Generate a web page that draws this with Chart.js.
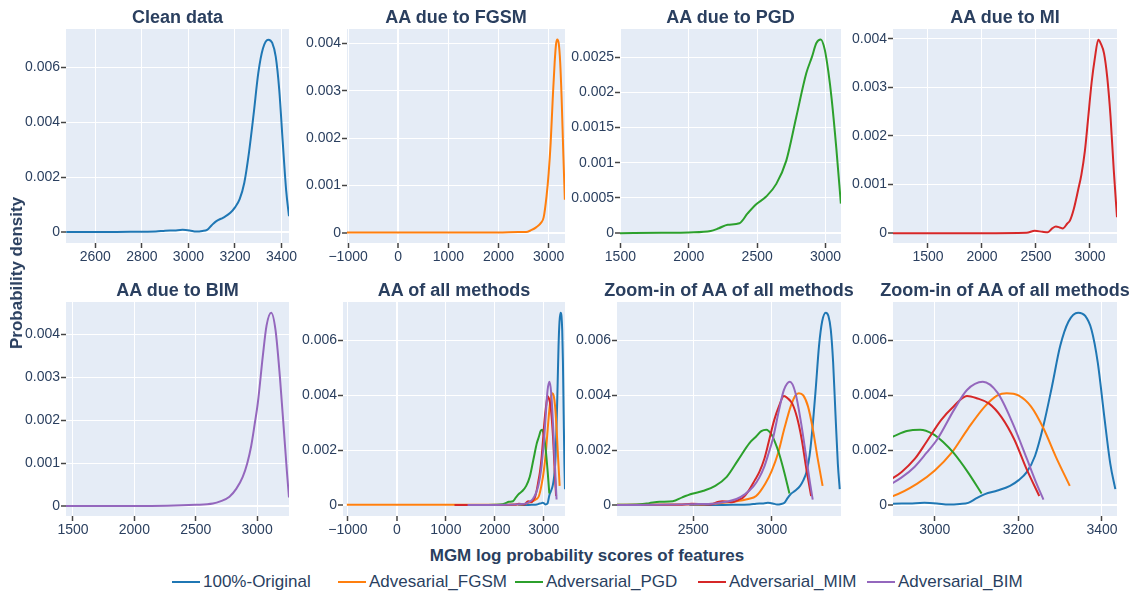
<!DOCTYPE html>
<html>
<head>
<meta charset="utf-8">
<script src="https://cdn.jsdelivr.net/npm/chart.js@4.4.1/dist/chart.umd.min.js"></script>
<style>
  html, body { margin: 0; padding: 0; background: #fff; }
  #wrap { position: relative; width: 1136px; height: 595px; overflow: hidden;
          font-family: "Liberation Sans", Arial, sans-serif; color: #2a3f5f; }
  .cv { position: absolute; }
  .ttl { position: absolute; font-weight: bold; font-size: 18px; white-space: nowrap;
         transform: translate(-50%, -50%); }
  #xlab { position: absolute; left: 587px; top: 556px; font-weight: bold; font-size: 17px;
          white-space: nowrap; transform: translate(-50%, -50%); }
  #ylab { position: absolute; left: 17px; top: 273px; font-weight: bold; font-size: 17px;
          white-space: nowrap; transform: translate(-50%, -50%) rotate(-90deg); }
  .leg { position: absolute; top: 582px; font-size: 17px; white-space: nowrap;
         transform: translateY(-50%); display: flex; align-items: center; }
  .leg span.sw { display: inline-block; width: 28px; height: 2px; margin-right: 3px; }
</style>
</head>
<body>
<div id="wrap"></div>
<script>
// series (kernel density estimates)
const cleanX = [2475, 2600, 2750, 2860, 2900, 2940, 2975, 3005, 3033, 3060, 3080, 3100, 3120, 3150, 3180, 3200, 3220, 3240, 3260, 3280, 3300, 3320, 3343, 3360, 3375, 3390, 3405, 3420, 3432]
const cleanY = [0, 0, 0.00001, 0.00002, 0.00005, 0.00006, 0.00008, 0.00006, 0.00002, 0.00004, 0.00008, 0.00025, 0.0004, 0.00053, 0.0007, 0.0009, 0.0012, 0.0018, 0.0029, 0.0043, 0.0058, 0.0067, 0.00702, 0.0069, 0.0064, 0.0052, 0.0033, 0.0015, 0.00058]

const fgsmX = [-1022, -500, 0, 500, 1000, 1500, 2000, 2400, 2550, 2650, 2750, 2850, 2900, 2958, 3000, 3040, 3080, 3120, 3150, 3172, 3200, 3230, 3260, 3290, 3323]
const fgsmY = [0.00001, 0.00001, 0.00001, 0.00001, 0.00001, 0.00001, 0.00001, 0.00002, 0.00002, 0.00006, 0.00012, 0.00022, 0.00033, 0.00078, 0.00126, 0.0019, 0.0028, 0.0036, 0.004, 0.00408, 0.004, 0.0036, 0.0028, 0.00175, 0.0007]

const pgdX = [1497, 1800, 2000, 2160, 2220, 2285, 2370, 2430, 2493, 2566, 2640, 2713, 2786, 2859, 2900, 2933, 2965, 2995, 3020, 3045, 3079, 3112]
const pgdY = [0, 0.000005, 0.00001, 0.00003, 0.00007, 0.00012, 0.00014, 0.00028, 0.00041, 0.00052, 0.0007, 0.00103, 0.00165, 0.00227, 0.0025, 0.0027, 0.00275, 0.0026, 0.0023, 0.0019, 0.0012, 0.00042]

const mimX = [1176, 1500, 2000, 2413, 2490, 2560, 2610, 2650, 2684, 2720, 2747, 2790, 2814, 2850, 2891, 2920, 2953, 2980, 3015, 3045, 3077, 3100, 3130, 3160, 3190, 3220, 3250]
const mimY = [0, 0, 0, 0.00001, 0.00005, 0.00003, 0.00002, 0.0001, 0.00014, 0.00012, 0.0001, 0.0002, 0.00026, 0.0005, 0.0009, 0.0012, 0.0017, 0.0023, 0.0031, 0.0036, 0.00398, 0.0039, 0.0037, 0.0032, 0.0024, 0.0013, 0.00033]

const bimX = [1443, 2000, 2500, 2640, 2700, 2775, 2830, 2883, 2920, 2952, 2980, 3006, 3047, 3077, 3115, 3150, 3186, 3220, 3243, 3260]
const bimY = [0, 0, 0.00003, 0.00006, 0.00011, 0.00022, 0.0004, 0.00068, 0.001, 0.0014, 0.0019, 0.0024, 0.0035, 0.0042, 0.0045, 0.0041, 0.003, 0.0017, 0.0008, 0.0002]

const seriesNames = ['100%-Original', 'Advesarial_FGSM', 'Adversarial_PGD', 'Adversarial_MIM', 'Adversarial_BIM']
const seriesColors = ['#1f77b4', '#ff7f0e', '#2ca02c', '#d62728', '#9467bd']
const seriesX = [cleanX, fgsmX, pgdX, mimX, bimX]
const seriesY = [cleanY, fgsmY, pgdY, mimY, bimY]

// subplot titles and tick values
const titles = ['Clean data', 'AA due to FGSM', 'AA due to PGD', 'AA due to MI',
                'AA due to BIM', 'AA of all methods', 'Zoom-in of AA of all methods', 'Zoom-in of AA of all methods']
const xTicks = [
  [2600, 2800, 3000, 3200, 3400],
  [-1000, 0, 1000, 2000, 3000],
  [1500, 2000, 2500, 3000],
  [1500, 2000, 2500, 3000],
  [1500, 2000, 2500, 3000],
  [-1000, 0, 1000, 2000, 3000],
  [2500, 3000],
  [3000, 3200, 3400]
]
const yTicks = [
  [0, 0.002, 0.004, 0.006],
  [0, 0.001, 0.002, 0.003, 0.004],
  [0, 0.0005, 0.001, 0.0015, 0.002, 0.0025],
  [0, 0.001, 0.002, 0.003, 0.004],
  [0, 0.001, 0.002, 0.003, 0.004],
  [0, 0.002, 0.004, 0.006],
  [0, 0.002, 0.004, 0.006],
  [0, 0.002, 0.004, 0.006]
]
const shown = [[0], [1], [2], [3], [4], [0, 1, 2, 3, 4], [0, 1, 2, 3, 4], [0, 1, 2, 3, 4]]

// layout: plot boxes [left, top, right, bottom] and axis ranges
const boxes = [
  [66, 29, 289, 243], [347, 29, 565, 243], [620, 29, 841, 243], [893, 29, 1117, 243],
  [66, 302, 289, 516], [343, 302, 565, 516], [617, 302, 841, 516], [893, 302, 1117, 516]
]
const xRanges = [[2474, 3432], [-1022, 3326], [1497, 3113], [1176, 3250], [1443, 3260], [-1100, 3432], [2015, 3440], [2900, 3436]]
const yRanges = [[-0.0004, 0.00741], [-0.00021, 0.0043], [-0.00014, 0.0029], [-0.0002, 0.0042],
                 [-0.00023, 0.00475], [-0.0004, 0.00741], [-0.0004, 0.00741], [-0.0004, 0.00741]]

const FONT = '"Liberation Sans", Arial, sans-serif'
const PADL = 70, PADT = 10, PADR = 25, PADB = 30

const plotBg = {
  id: 'plotBg',
  beforeDraw(chart) {
    const { ctx, chartArea: a } = chart
    ctx.save()
    ctx.fillStyle = '#E5ECF6'
    ctx.fillRect(a.left, a.top, a.right - a.left, a.bottom - a.top)
    ctx.restore()
  }
}

const wrap = document.getElementById('wrap')

titles.forEach((t, i) => {
  const [L, T, R, B] = boxes[i]
  const canvas = document.createElement('canvas')
  canvas.className = 'cv'
  canvas.width = R - L + PADL + PADR
  canvas.height = B - T + PADT + PADB
  canvas.style.left = (L - PADL) + 'px'
  canvas.style.top = (T - PADT) + 'px'
  wrap.appendChild(canvas)

  const ttl = document.createElement('div')
  ttl.className = 'ttl'
  ttl.textContent = t
  ttl.style.left = ((L + R) / 2) + 'px'
  ttl.style.top = (T - 12) + 'px'
  wrap.appendChild(ttl)

  const xt = xTicks[i], yt = yTicks[i]
  const datasets = shown[i].map(s => ({
    label: seriesNames[s],
    data: seriesX[s].map((x, k) => ({ x: x, y: seriesY[s][k] })),
    borderColor: seriesColors[s],
    borderWidth: 2,
    pointRadius: 0,
    fill: false,
    cubicInterpolationMode: 'monotone',
    order: 5 - s
  }))

  new Chart(canvas, {
    type: 'line',
    data: { datasets },
    plugins: [plotBg],
    options: {
      responsive: false,
      animation: false,
      events: [],
      layout: { padding: { left: 0, top: PADT, right: PADR, bottom: 0 } },
      plugins: { legend: { display: false }, tooltip: { enabled: false } },
      scales: {
        x: {
          type: 'linear',
          min: xRanges[i][0], max: xRanges[i][1],
          afterBuildTicks: sc => { sc.ticks = xt.map(v => ({ value: v })) },
          afterFit: sc => { sc.height = PADB },
          border: { display: false },
          grid: {
            color: '#ffffff',
            lineWidth: c => (c.tick && c.tick.value === 0 ? 2 : 1),
            tickColor: '#444',
            tickLength: 5,
            tickWidth: 1.5
          },
          ticks: {
            autoSkip: false, maxRotation: 0, padding: 1,
            color: '#2a3f5f', font: { family: FONT, size: 14 },
            callback: v => String(v).replace('-', '\u2212')
          }
        },
        y: {
          type: 'linear',
          min: yRanges[i][0], max: yRanges[i][1],
          afterBuildTicks: sc => { sc.ticks = yt.map(v => ({ value: v })) },
          afterFit: sc => { sc.width = PADL },
          border: { display: false },
          grid: {
            color: '#ffffff',
            lineWidth: c => (c.tick && c.tick.value === 0 ? 2 : 1),
            tickColor: '#444',
            tickLength: 5,
            tickWidth: 1.5
          },
          ticks: {
            padding: 1,
            color: '#2a3f5f', font: { family: FONT, size: 14 },
            callback: v => (v === 0 ? '0' : String(+v.toPrecision(4)))
          }
        }
      }
    }
  })
})

// axis titles
const xl = document.createElement('div')
xl.id = 'xlab'
xl.textContent = 'MGM log probability scores of features'
wrap.appendChild(xl)
const yl = document.createElement('div')
yl.id = 'ylab'
yl.textContent = 'Probability density'
wrap.appendChild(yl)

// legend
const legLeft = [172, 338, 515, 698, 867]
seriesNames.forEach((n, s) => {
  const d = document.createElement('div')
  d.className = 'leg'
  d.style.left = legLeft[s] + 'px'
  const sw = document.createElement('span')
  sw.className = 'sw'
  sw.style.background = seriesColors[s]
  d.appendChild(sw)
  d.appendChild(document.createTextNode(n))
  wrap.appendChild(d)
})
</script>
</body>
</html>
